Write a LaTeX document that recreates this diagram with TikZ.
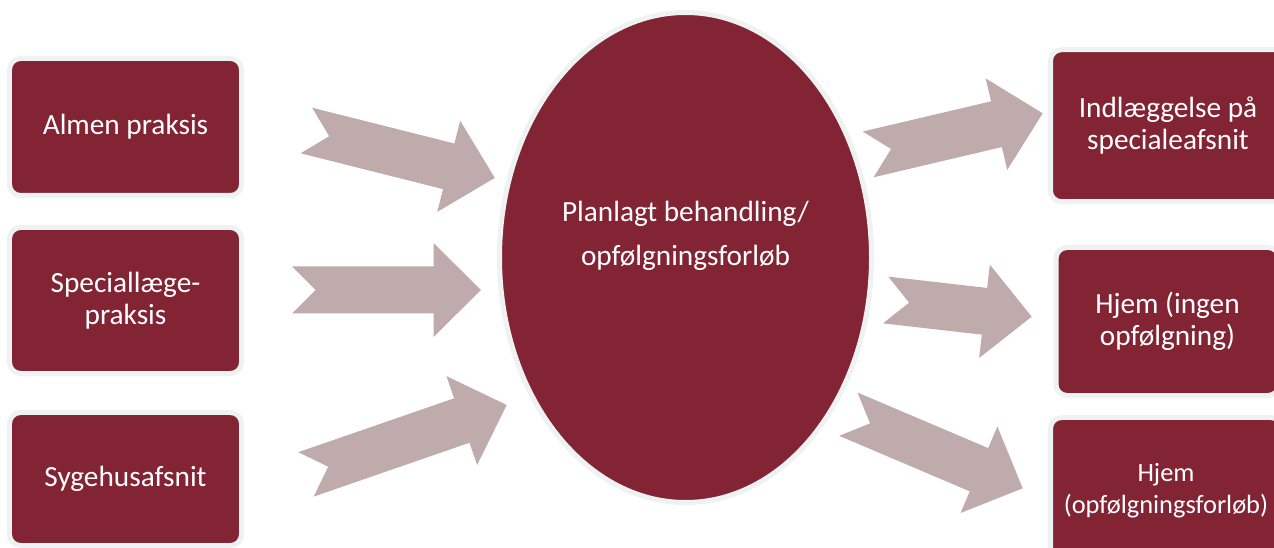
\documentclass[tikz,border=0pt]{standalone}
\usepackage{fontspec}
\setmainfont{Carlito}
\usetikzlibrary{calc,shapes.geometric}

\definecolor{boxred}{RGB}{130,36,51}
\definecolor{rimgrey}{RGB}{239,242,242}
\definecolor{arrowrose}{RGB}{191,171,172}

% notched block arrow from tail centre #1 to tip #2
\newcommand\blockarrow[2]{%
  \fill[arrowrose]
    ($(#1)!23.5bp!90:(#2)$)
    -- ($(#2)!47.5bp!(#1)!23.5bp!-90:(#1)$)
    -- ($(#2)!47.5bp!(#1)!47bp!-90:(#1)$)
    -- (#2)
    -- ($(#2)!47.5bp!(#1)!47bp!90:(#1)$)
    -- ($(#2)!47.5bp!(#1)!23.5bp!90:(#1)$)
    -- ($(#1)!23.5bp!-90:(#2)$)
    -- ($(#1)!23.5bp!(#2)$)
    -- cycle;}

\tikzset{
  stage/.style={draw=rimgrey, line width=5bp, fill=boxred, rounded corners=11bp,
    text=white, align=center, inner sep=0pt,
    font=\fontsize{29.4}{32.1}\selectfont},
  hub/.style={ellipse, draw=rimgrey, line width=5bp, fill=boxred, inner sep=0pt},
  hubtext/.style={text=white, align=center, font=\fontsize{29.4}{44.2}\selectfont},
}

\begin{document}
\begin{tikzpicture}[x=1bp, y=-1bp]
\useasboundingbox (0,0) rectangle (1274,548);
\clip (0,0) rectangle (1274,548);

% sources
\node[stage, minimum width=232bp, minimum height=137bp] (almen) at (125.5,127) {Almen praksis};
\node[stage, minimum width=232bp, minimum height=146bp] (spec) at (125.5,300.5) {Speciallæge-\\praksis};
\node[stage, minimum width=232bp, minimum height=133bp] (syge) at (125.5,479) {Sygehusafsnit};

% central course
\node[hub, minimum width=372bp, minimum height=490bp] (plan) at (685.5,257.5) {};
\node[hubtext] (plantext) at ([yshift=22bp]plan.center) {Planlagt behandling/\\opfølgningsforløb};

% outcomes
\node[stage, minimum width=235bp, minimum height=152bp] (indl) at (1168,125.7) {Indlæggelse på\\specialeafsnit};
\node[stage, minimum width=223bp, minimum height=148bp] (hjem1) at (1167.5,321.5) {Hjem (ingen\\opfølgning)};
\node[stage, minimum width=231bp, minimum height=147bp, font=\fontsize{26.5}{32.1}\selectfont] (hjem2) at (1166,491) {Hjem\\(opfølgningsforløb)};

% arrow ends
\coordinate (a1s) at (306.4,130.5);  \coordinate (a1e) at (494.8,177.9);
\coordinate (a2s) at (292,290);      \coordinate (a2e) at (481,290);
\coordinate (a3s) at (306,474.4);    \coordinate (a3e) at (506.7,405);
\coordinate (a4s) at (868.2,154.4);  \coordinate (a4e) at (1042.7,113.3);
\coordinate (a5s) at (885.7,300);    \coordinate (a5e) at (1031.7,316.7);
\coordinate (a6s) at (848.4,414.2);  \coordinate (a6e) at (1022.7,488.3);

\blockarrow{a1s}{a1e}
\blockarrow{a2s}{a2e}
\blockarrow{a3s}{a3e}
\blockarrow{a4s}{a4e}
\blockarrow{a5s}{a5e}
\blockarrow{a6s}{a6e}
\end{tikzpicture}
\end{document}
